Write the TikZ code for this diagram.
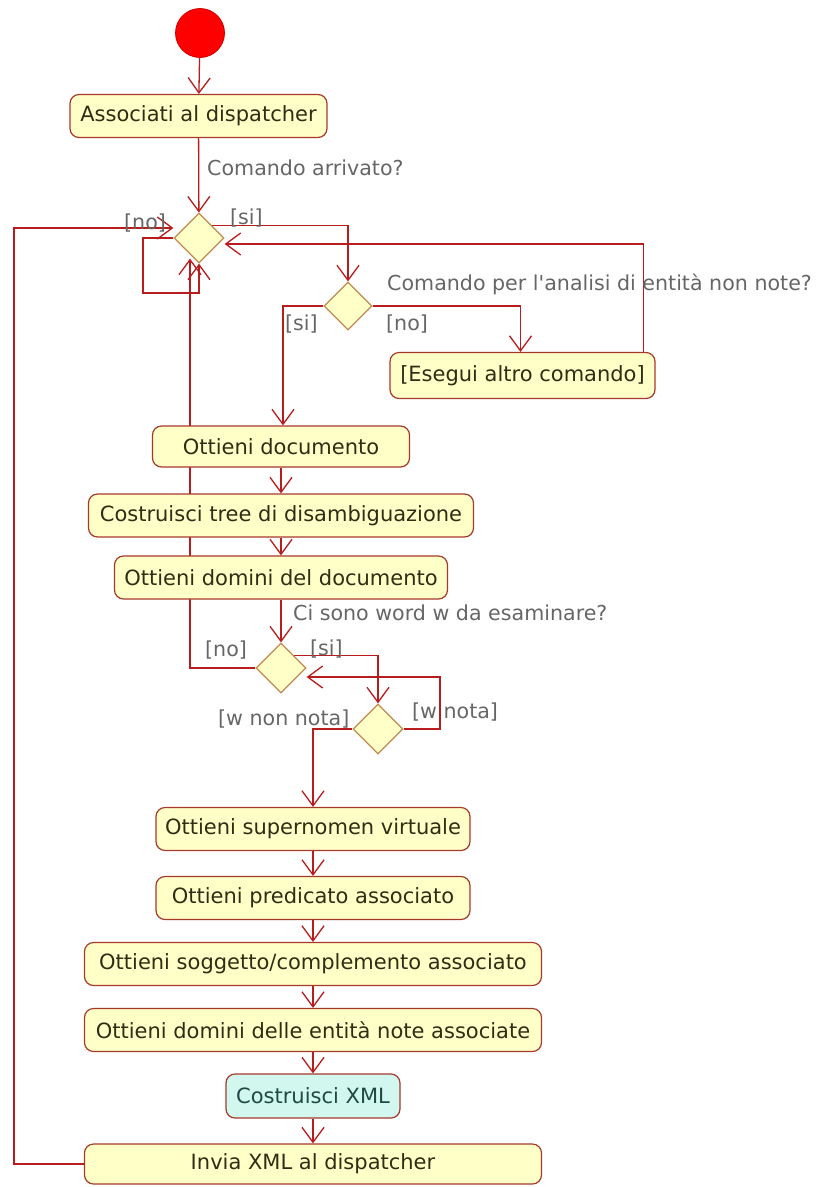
\documentclass[tikz,border=0pt]{standalone}
\usepackage{fontspec}
\setmainfont{DejaVu Sans}[Ligatures=TeXOff]
\usetikzlibrary{shapes.geometric,arrows.meta,backgrounds,calc}
\definecolor{actfill}{HTML}{FFFFC8}
\definecolor{actline}{HTML}{A63A2A}
\definecolor{flow}{HTML}{B81C1C}
\definecolor{decline}{HTML}{C08A50}
\definecolor{guard}{HTML}{666666}
\definecolor{acttext}{HTML}{2E2E14}
\definecolor{xmlfill}{HTML}{D2F7EE}
\definecolor{xmltext}{HTML}{1E4A44}
\begin{document}
\begin{tikzpicture}[x=1pt,y=-1pt,
  act/.style={rectangle,rounded corners=9pt,draw=actline,line width=1.2pt,
    fill=actfill,text=acttext,font=\fontsize{21}{25}\selectfont,
    inner sep=0pt,minimum height=43pt},
  dec/.style={diamond,draw=decline,line width=1.2pt,fill=actfill,
    minimum width=50pt,minimum height=50pt,inner sep=0pt},
  flowline/.style={draw=flow,line width=1.3pt},
  arr/.style={flowline,-{Straight Barb[length=15pt,width=22pt]}},
  guardtxt/.style={text=guard,font=\fontsize{20.6}{24}\selectfont,
    anchor=base west,inner sep=0pt}]
\useasboundingbox (0,0) rectangle (824,1187);

% activity states and decisions
\node[circle,fill=red,draw=red!80!black,line width=0.8pt,minimum size=49pt,inner sep=0pt] (start) at (200,33) {};
\node[act,minimum width=257pt] (assoc) at (198.5,116) {Associati al dispatcher};
\node[dec] (d1) at (199,238) {};
\node[dec,minimum width=48pt,minimum height=48pt] (d2) at (348,306) {};
\node[act,minimum width=265pt,minimum height=46pt] (altro) at (522.5,375.5) {[Esegui altro comando]};
\node[act,minimum width=257pt,minimum height=41pt] (doc) at (281,446.5) {Ottieni documento};
\node[act,minimum width=385pt] (tree) at (281,515.5) {Costruisci tree di disambiguazione};
\node[act,minimum width=333pt] (domdoc) at (281,577.5) {Ottieni domini del documento};
\node[dec] (d3) at (281,668) {};
\node[dec] (d4) at (378,729) {};
\node[act,minimum width=314pt] (super) at (313,829) {Ottieni supernomen virtuale};
\node[act,minimum width=314pt] (pred) at (313,898) {Ottieni predicato associato};
\node[act,minimum width=457pt] (sogg) at (313,964) {Ottieni soggetto/complemento associato};
\node[act,minimum width=457pt] (domnote) at (313,1030) {Ottieni domini delle entità note associate};
\node[act,minimum width=174pt,minimum height=44pt,fill=xmlfill,text=xmltext] (xml) at (313,1096) {Costruisci XML};
\node[act,minimum width=457pt,minimum height=40pt] (invia) at (313,1164) {Invia XML al dispatcher};

% questions and guards
\node[guardtxt] (q1) at (207,175) {Comando arrivato?};
\node[guardtxt] (g1no) at (124,229) {[no]};
\node[guardtxt] (g1si) at (230,224) {[si]};
\node[guardtxt] (q2) at (387,290) {Comando per l'analisi di entità non note?};
\node[guardtxt] (g2si) at (285,330) {[si]};
\node[guardtxt] (g2no) at (386,330) {[no]};
\node[guardtxt] (q3) at (293,620) {Ci sono word w da esaminare?};
\node[guardtxt] (g3no) at (205,656) {[no]};
\node[guardtxt] (g3si) at (310,655) {[si]};
\node[guardtxt] (g4no) at (218,725) {[w non nota]};
\node[guardtxt] (g4si) at (412,718) {[w nota]};

% transitions, kept behind the states
\begin{scope}[on background layer]
\fill[white] (0,0) rectangle (824,1187);
\draw[arr] (start) -- (assoc);
\draw[arr] (assoc) -- (d1);
\coordinate (loopc) at (143,293);
\draw[arr] (d1.west) -| (loopc) -| (d1.south);
\draw[arr] (d1.north east) -| (d2.north);
\draw[arr] ([xshift=-12pt]altro.north east) |- ([yshift=-6pt]d1.east);
\draw[arr] (d2.west) -| ([xshift=2pt]doc.north);
\draw[arr] (d2.east) -| ([xshift=-2pt]altro.north);
\draw[arr] (doc) -- (tree);
\draw[arr] (tree) -- (domdoc);
\draw[arr] (domdoc) -- (d3);
\draw[arr] (d3.west) -| ([xshift=-9pt,yshift=5pt]d1.south);
\draw[arr] (d3.north east) -| (d4.north);
\coordinate (notac) at (440,729);
\draw[arr] (d4.east) -- (notac) |- ([yshift=-9pt]d3.east);
\draw[arr] (d4.west) -| (super.north);
\draw[arr] (super) -- (pred);
\draw[arr] (pred) -- (sogg);
\draw[arr] (sogg) -- (domnote);
\draw[arr] (domnote) -- (xml);
\draw[arr] (xml) -- (invia);
\coordinate (backc) at (14,1164);
\draw[arr] (invia.west) -- (backc) |- ([yshift=10pt]d1.west);
\end{scope}
\end{tikzpicture}
\end{document}
